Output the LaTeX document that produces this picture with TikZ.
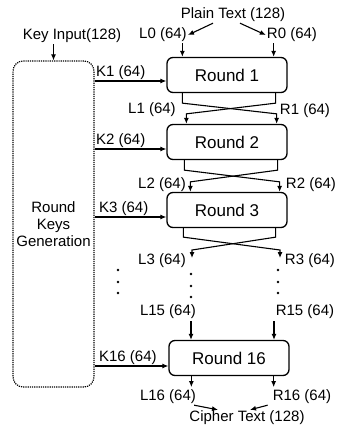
\documentclass[tikz,border=0pt]{standalone}
\usepackage{fontspec}
\setmainfont{Liberation Sans}
\usetikzlibrary{arrows.meta}

\begin{document}
\begin{tikzpicture}[x=1pt, y=-1pt, >={Latex[length=6pt,width=5pt]}]

  % ---------- Styling ----------
  \tikzset{
    roundbox/.style={draw, line width=1.3pt, rounded corners=6pt, minimum width=120pt, minimum height=35pt, font=\fontsize{17}{19}\selectfont},
    keybox/.style={draw, densely dotted, line width=1.2pt, rounded corners=10pt, minimum width=77pt, minimum height=326pt, align=center, font=\fontsize{15}{17}\selectfont},
    link/.style={draw, line width=1.1pt, ->},
    labelstyle/.style={font=\fontsize{15}{17}\selectfont, inner sep=1pt}
  }

  \useasboundingbox (0,0) rectangle (339,430);

  % ---------- Inputs ----------
  \node[labelstyle] (plain) at (233,15) {Plain Text (128)};
  \node[labelstyle] (L0) at (163,35) {L0 (64)};
  \node[labelstyle] (R0) at (292,35) {R0 (64)};
  \node[labelstyle] (keyin) at (72,36) {Key Input(128)};

  % ---------- Key schedule and rounds ----------
  \node[keybox] (keygen) at (53.5,224) {Round\\Keys\\Generation};
  \node[roundbox] (r1) at (227,75) {Round 1};
  \node[roundbox] (r2) at (227,142) {Round 2};
  \node[roundbox] (r3) at (227,210) {Round 3};
  \node[roundbox] (r16) at (229,358) {Round 16};

  % ---------- Half-block labels ----------
  \node[labelstyle] (L1) at (152,110) {L1 (64)};
  \node[labelstyle] (R1) at (305,111) {R1 (64)};
  \node[labelstyle] (L2) at (162,185) {L2 (64)};
  \node[labelstyle] (R2) at (311,185) {R2 (64)};
  \node[labelstyle] (L3) at (162,261) {L3 (64)};
  \node[labelstyle] (R3) at (310,261) {R3 (64)};
  \node[labelstyle] (L15) at (168,312) {L15 (64)};
  \node[labelstyle] (R15) at (305,312) {R15 (64)};
  \node[labelstyle] (L16) at (168,397) {L16 (64)};
  \node[labelstyle] (R16) at (302,397) {R16 (64)};
  \node[labelstyle] (cipher) at (247,418) {Cipher Text (128)};

  \coordinate (l3end) at (192,258);
  \coordinate (r3end) at (280,258);
  \coordinate (l15start) at (191,321);
  \coordinate (r15start) at (274,321);

  % ---------- Input arrows ----------
  \draw[link] ([xshift=-20pt]plain.south) -- (L0.east);
  \draw[link] ([xshift=7pt]plain.south) -- (R0.west);
  \draw[link] ([xshift=16pt]r1.north west |- L0.south) -- ([xshift=16pt]r1.north west);
  \draw[link] ([xshift=-14pt]r1.north east |- R0.south) -- ([xshift=-14pt]r1.north east);
  \draw[link] (keyin.south -| keygen.north) -- (keygen.north);

  % ---------- Round keys ----------
  \draw[link] ([yshift=-6pt]r1.west -| keygen.east) node[labelstyle, anchor=south west] (K1) {K1 (64)} -- ([yshift=-6pt]r1.west);
  \draw[link] ([yshift=-7pt]r2.west -| keygen.east) node[labelstyle, anchor=south west] (K2) {K2 (64)} -- ([yshift=-7pt]r2.west);
  \draw[link] ([yshift=-7pt]r3.west -| keygen.east) node[labelstyle, anchor=south west, xshift=3pt] (K3) {K3 (64)} -- ([yshift=-7pt]r3.west);
  \draw[link] ([yshift=-8pt]r16.west -| keygen.east) node[labelstyle, anchor=south west, xshift=3pt] (K16) {K16 (64)} -- ([yshift=-8pt]r16.west);

  % ---------- Swaps between rounds ----------
  \draw[link] ([xshift=16pt]r1.south west) -- ++(0,10) -- ([xshift=-11pt,yshift=10pt]r2.north east) -- ([xshift=-11pt]r2.north east);
  \draw[link] ([xshift=-12pt]r1.south east) -- ++(0,10) -- ([xshift=20pt,yshift=10pt]r2.north west) -- ([xshift=20pt]r2.north west);
  \draw[link] ([xshift=18pt]r2.south west) -- ++(0,10) -- ([xshift=-8pt,yshift=10pt]r3.north east) -- ([xshift=-8pt]r3.north east);
  \draw[link] ([xshift=-10pt]r2.south east) -- ++(0,10) -- ([xshift=24pt,yshift=10pt]r3.north west) -- ([xshift=24pt]r3.north west);
  \draw[link] ([xshift=17pt]r3.south west) -- ++(0,9) -- ([yshift=8pt]r3end) -- (r3end);
  \draw[link] ([xshift=-12pt]r3.south east) -- ++(0,9) -- ([yshift=8pt]l3end) -- (l3end);

  % ---------- Omitted rounds ----------
  \foreach \y in {270,282,293} {
    \fill (118,\y) circle (1.3pt);
    \fill (278,\y) circle (1.3pt);
  }
  \foreach \y in {274,286,297}
    \fill (191,\y) circle (1.3pt);

  \draw[link] (l15start) -- (l15start |- r16.north);
  \draw[link] (r15start) -- (r15start |- r16.north);

  % ---------- Output ----------
  \draw[link] ([xshift=23pt]r16.south west) -- ++(0,11);
  \draw[link] ([xshift=-16pt]r16.south east) -- ++(0,11);
  \draw[link] ([xshift=-3pt]L16.south east) -- ([xshift=-29pt]cipher.north);
  \draw[link] ([xshift=-4pt]R16.south west) -- ([xshift=3pt]cipher.north);

\end{tikzpicture}
\end{document}
